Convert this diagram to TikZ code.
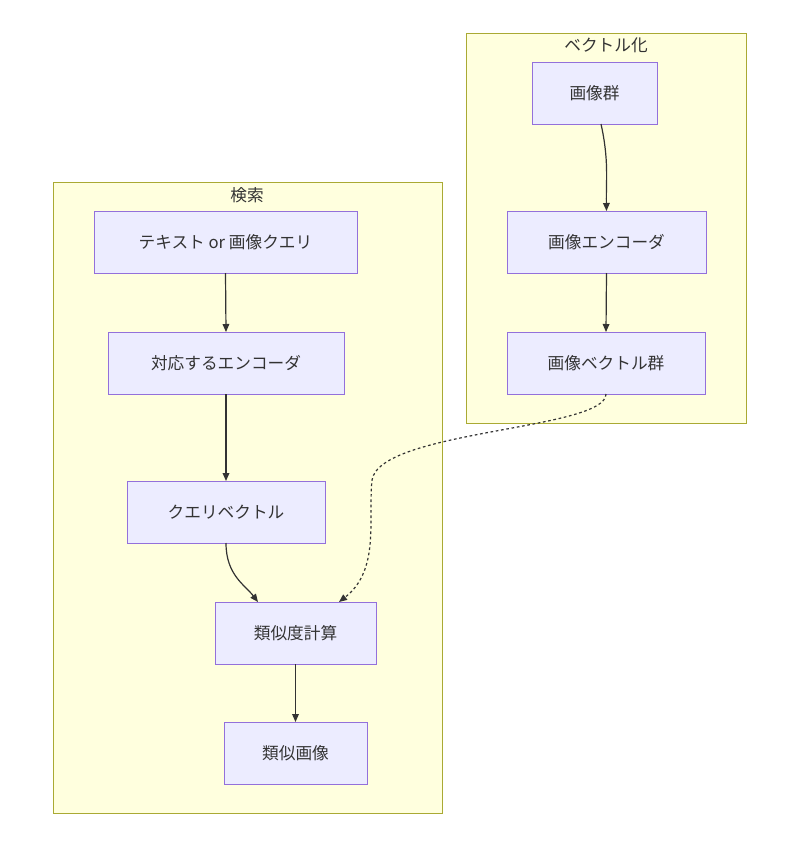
\documentclass[tikz,border=0pt]{standalone}
\usepackage{fontspec}
\setmainfont{Noto Sans CJK JP}
\usetikzlibrary{arrows.meta}
\definecolor{clf}{HTML}{FFFFDE}\definecolor{cls}{HTML}{AAAA33}
\definecolor{ndf}{HTML}{ECECFF}\definecolor{nds}{HTML}{9370DB}
\definecolor{txt}{HTML}{333333}
\begin{document}
\begin{tikzpicture}[x=0.75pt,y=-0.75pt,
 nd/.style={draw=nds,fill=ndf,line width=0.75pt,text=txt,font=\fontsize{12.5}{14}\selectfont},
 cl/.style={draw=cls,fill=clf,line width=0.75pt},
 ttl/.style={text=txt,font=\fontsize{12.5}{14}\selectfont},
 ar/.style={draw=txt,line width=0.9pt,-{Triangle[length=6pt,width=5pt]}}]
\useasboundingbox (0,0) rectangle (800,846);
\draw[cl] (53,182) rectangle (442,813);
\node[ttl] (t1) at (247,195) {検索};
\draw[cl] (466,33) rectangle (746,423);
\node[ttl] (t2) at (606,45) {ベクトル化};
\newcommand{\bx}[6]{\draw[nd] (#2,#3) rectangle (#4,#5); \node[ttl] (#1) at ({(#2+#4)/2},{(#3+#5)/2}) {#6};
 \coordinate (#1t) at ({(#2+#4)/2},#3); \coordinate (#1b) at ({(#2+#4)/2},#5);}
\bx{a}{532}{62}{657}{124}{画像群}
\bx{b}{507}{211}{706}{273}{画像エンコーダ}
\bx{c}{507}{332}{705}{394}{画像ベクトル群}
\bx{d}{94}{211}{357}{273}{テキスト or 画像クエリ}
\bx{e}{108}{332}{344}{394}{対応するエンコーダ}
\bx{f}{127}{481}{325}{543}{クエリベクトル}
\bx{g}{215}{602}{376}{664}{類似度計算}
\bx{h}{224}{722}{367}{784}{類似画像}
\coordinate (g1) at (258,602);\coordinate (g2) at (339,602);
\draw[ar] (601,124) .. controls (609,160) and (606,180) .. (bt);
\draw[ar] (bb) -- (ct);
\draw[ar] (db) -- (et);
\draw[ar] (eb) -- (ft);
\draw[ar] (fb) .. controls (226,575) and (245,585) .. (g1);
\draw[ar,dash pattern=on 2pt off 2pt] (cb) .. controls (606,430) and (380,430) .. (372,480) .. controls (368,520) and (380,570) .. (g2);
\draw[ar] (gb) -- (ht);
\end{tikzpicture}
\end{document}
